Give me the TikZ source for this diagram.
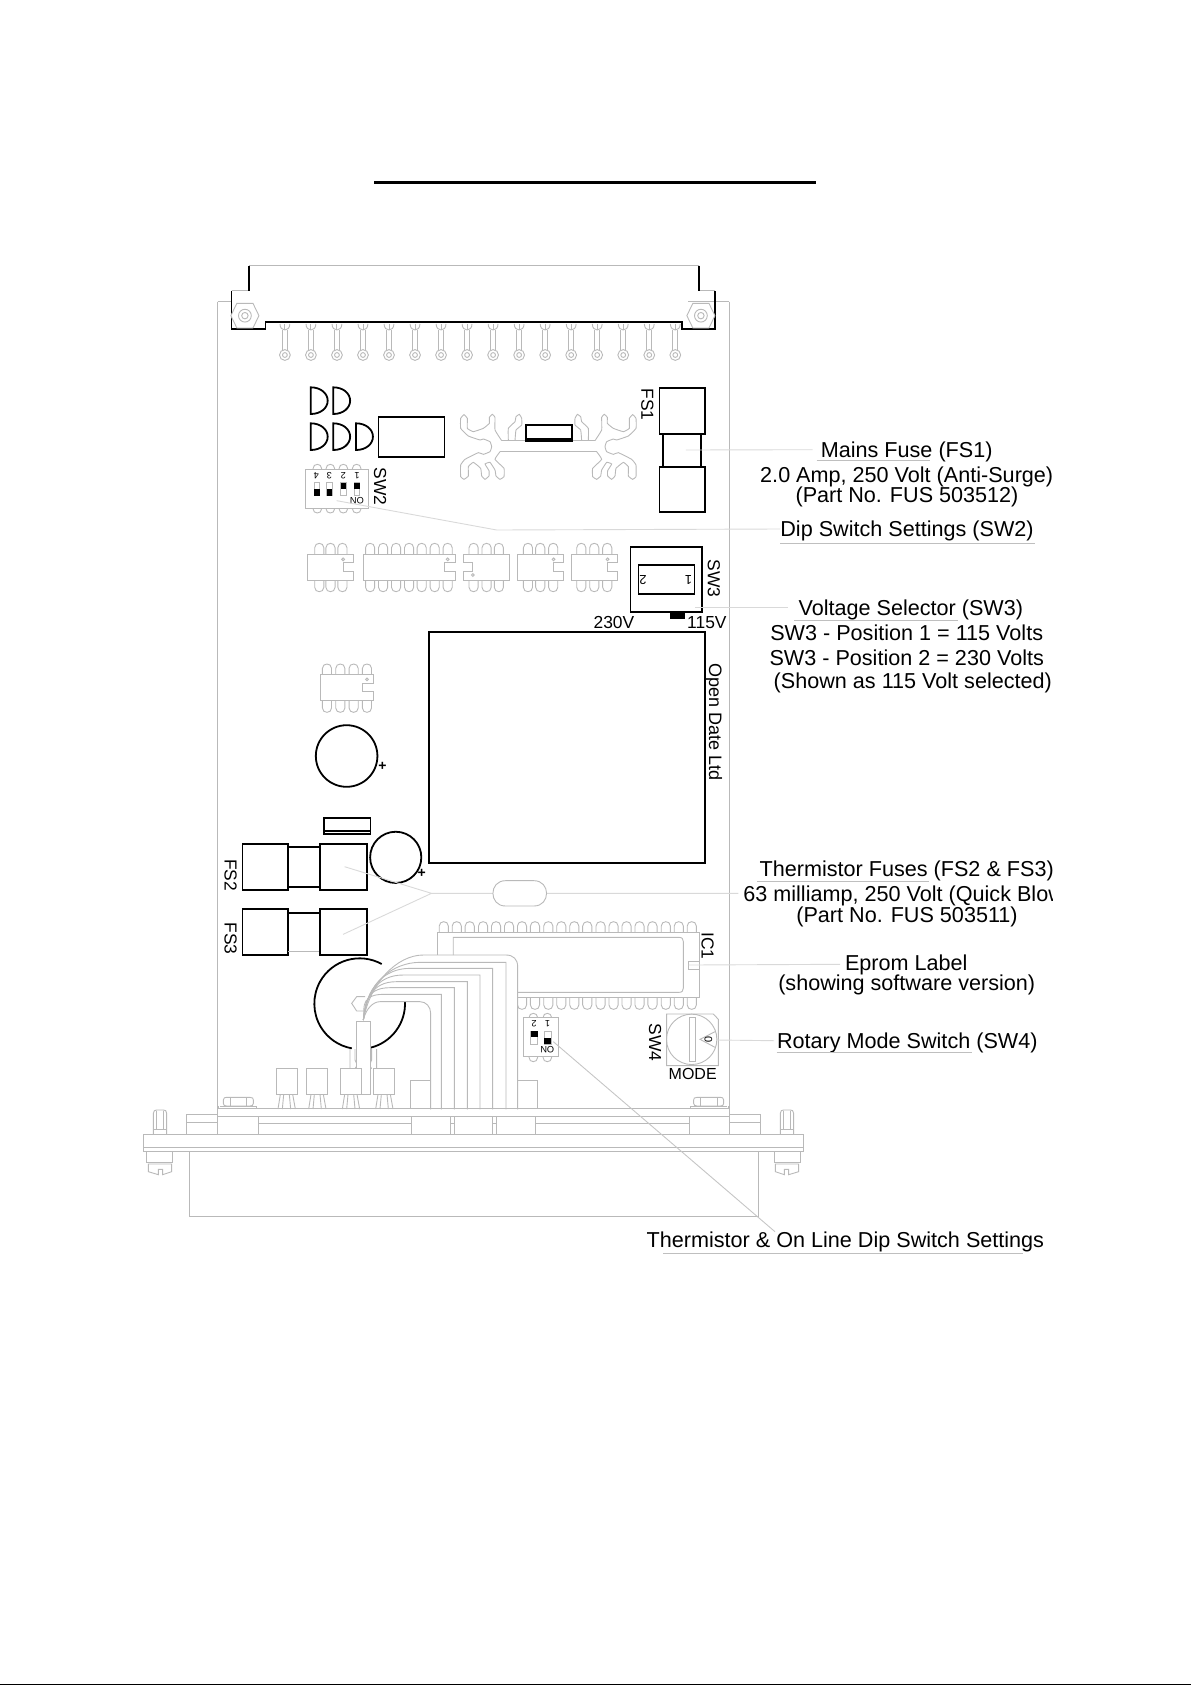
\documentclass[tikz,border=0pt]{standalone}
\usepackage{fontspec}
\setmainfont{Liberation Sans}
\tikzset{
 gl/.style={draw=gray!55,line width=0.45pt},
 bl/.style={draw=black,line width=0.9pt},
 lead/.style={draw=gray!30,line width=0.45pt},
 ul/.style={draw=gray!50,line width=0.5pt},
 lab/.style={font=\fontsize{10.8}{12}\selectfont,anchor=base,inner sep=0pt},
 sm/.style={font=\fontsize{8.7}{9}\selectfont,inner sep=0pt},
 micro/.style={font=\fontsize{4.6}{5}\selectfont,inner sep=0pt,rotate=180},
 zb/.style 2 args={shift={(#1,#2)},x=0.17538pt,y=-0.16667pt},
 zc/.style 2 args={shift={(#1,#2)},x=0.16667pt,y=-0.16667pt},
 zm/.style 2 args={shift={(#1,#2)},x=-0.16667pt,y=-0.16667pt},
}
\newcommand{\domeT}[3]{\foreach \d in {#1}{\draw[gl] (\d-13,#2) -- (\d-13,#2-#3+13) .. controls (\d-13,#2-#3-4.3) and (\d+13,#2-#3-4.3) .. (\d+13,#2-#3+13) -- (\d+13,#2);}}
\newcommand{\domeB}[3]{\foreach \d in {#1}{\draw[gl] (\d-13,#2) -- (\d-13,#2+#3-13) .. controls (\d-13,#2+#3+4.3) and (\d+13,#2+#3+4.3) .. (\d+13,#2+#3-13) -- (\d+13,#2);}}
\newcommand{\chipNotch}[7]{\draw[gl,fill=white] (#1,#4) -- (#2,#4) -- (#2,#5) -- (#3,#5) -- (#3,#6) -- (#2,#6) -- (#2,#7) -- (#1,#7) -- cycle;}
\newcommand{\diode}[2]{\draw[bl] (#1,#2) -- (#1,#2+80) .. controls (#1+28,#2+80) and (#1+48,#2+62) .. (#1+48,#2+40) .. controls (#1+48,#2+18) and (#1+28,#2) .. (#1,#2) -- cycle;}
\newcommand{\hsinkhalf}{
 \draw[gl] (325,155) -- (180,155);
 \draw[gl] (185,122) -- (325,122);
 \draw[gl] plot[smooth,tension=.2] coordinates {(180,155)(165,178)(192,205)(192,230)(180,238)(168,228)(165,210)(150,187)(135,192)(147,212)(147,228)(135,238)(125,228)(122,205)(100,187)(85,200)(85,228)(72,238)(62,230)(62,195)(75,178)(115,158)(130,163)(150,155)(155,140)(150,125)(130,117)(120,120)(85,108)(62,85)(62,55)(72,44)(82,55)(82,85)(100,95)(130,85)(148,70)(148,52)(157,43)(165,52)(165,90)(185,122)};
 \draw[gl] plot[smooth,tension=.2] coordinates {(205,122)(205,85)(225,65)(228,50)(238,43)(245,55)(245,75)(228,90)(225,122)};
}
\newcommand{\panelhalf}{
 \draw[gl] (280,90) .. controls (280,83) and (285,82) .. (290,82) -- (360,82) .. controls (368,82) and (370,85) .. (370,90) -- (370,100) .. controls (370,106) and (366,108) .. (360,108) -- (290,108) .. controls (284,108) and (280,106) .. (280,100) -- cycle;
 \draw[gl] (300,82) -- (300,108) (350,82) -- (350,108) (270,108) -- (380,108) (265,108) -- (265,115) (380,108) -- (380,115);
 \draw[gl] (70,193) -- (70,130) .. controls (70,122) and (75,120) .. (80,120) -- (100,120) .. controls (106,120) and (110,122) .. (110,130) -- (110,193);
 \draw[gl] (80,122) -- (80,178) (100,122) -- (100,178) (70,178) -- (110,178);
 \draw[gl] (50,245) -- (50,278) -- (128,278) -- (128,245);
 \draw[gl] (55,282) -- (125,282) -- (125,305) -- (98,314) -- (98,298) -- (85,298) -- (85,314) -- (55,305) -- cycle;
 \draw[gl] (170,193) -- (170,132) -- (263,132) (170,156) -- (263,156);
}
\begin{document}
\begin{tikzpicture}[x=0.5pt,y=-0.5pt]
\useasboundingbox (0,0) rectangle (1191,1685);
\fill[black] (374,181) rectangle (816,184.3);
\fill[black] (0,1683.5) rectangle (1191,1685);

% board
\draw[gl] (217.7,301.7) -- (217.7,1134.3) (729.3,301.7) -- (729.3,1134.3);
\draw[gl] (217.7,301.7) -- (232,301.7) (688,301.7) -- (729.3,301.7);

\begin{scope}[zb={200}{250}]
 % edge connector
 \draw[gl] (140,47) -- (1423,47) (90,122) -- (140,122) (1423,122) -- (1469,122);
 \draw[bl] (140,47) -- (140,122) (1423,47) -- (1423,122);
 \draw[bl] (90,122) -- (90,238) -- (187,238) -- (187,217) -- (1373,217) -- (1373,238) -- (1469,238) -- (1469,122);
 % pins
 \foreach \p in {242,316.2,390.4,464.6,538.8,613,687.2,761.4,835.6,909.8,984,1058.2,1132.4,1206.6,1280.8,1355}{
  \draw[gl] (\p-7,240) -- (\p-7,305) (\p+7,240) -- (\p+7,305);
  \draw[gl,fill=white] (\p,315) circle [radius=2.7pt];
  \draw[gl] (\p,315) circle [radius=1.2pt];
  \draw[gl] (\p-14,222) .. controls (\p-14,246) and (\p+14,246) .. (\p+14,222);
  \draw[gl] (\p,222) -- (\p,240);
 }
 % mounting nuts
 \foreach \m in {128,1428}{
  \draw[gl,fill=white] (\m-40,197) -- (\m-23,160) -- (\m+23,160) -- (\m+40,197) -- (\m+23,234) -- (\m-23,234) -- cycle;
  \draw[gl] (\m,197) circle [radius=3.2pt];
  \draw[gl] (\m,197) circle [radius=1.6pt];
 }
 % diodes
 \diode{316}{412}\diode{380}{412}
 \diode{316}{520}\diode{380}{520}\diode{445}{520}
 \draw[bl] (509,502) rectangle (697,620);
 % fuse FS1
 \draw[bl] (1310,413) rectangle (1440,552);
 \draw[bl] (1319,552) rectangle (1429,650);
 \draw[bl] (1310,650) rectangle (1440,786);
 \node[sm,rotate=-90] (tFSone) at (1275,463) {FS1};
 % row of chips
 \domeT{340,372,406}{913}{33}\domeB{340,372,406}{991}{34}
 \chipNotch{307}{438}{410}{913}{938}{965}{991}
 \draw[gl] (408,928) circle [radius=0.7pt];
 \domeT{485,522,559,596,632,669,706}{913}{33}\domeB{485,522,559,596,632,669,706}{991}{34}
 \chipNotch{465}{727}{698}{913}{938}{965}{991}
 \draw[gl] (706,928) circle [radius=0.7pt];
 \domeT{780,817,852}{913}{33}\domeB{780,817,852}{991}{34}
 \chipNotch{883}{751}{778}{913}{938}{965}{991}
 \draw[gl] (778,975) circle [radius=0.7pt];
 \domeT{935,970,1007}{913}{33}\domeB{935,970,1007}{991}{34}
 \chipNotch{905}{1036}{1008}{913}{938}{965}{991}
 \draw[gl] (1008,928) circle [radius=0.7pt];
 \domeT{1087,1124,1161}{913}{33}\domeB{1087,1124,1161}{991}{34}
 \chipNotch{1059}{1190}{1162}{913}{938}{965}{991}
 \draw[gl] (1162,928) circle [radius=0.7pt];
 % SW3
 \draw[bl] (1227,891) rectangle (1430,1087);
 \draw[bl] (1250,944) rectangle (1410,1032);
 \node[sm,font=\fontsize{6.5}{7}\selectfont,rotate=180] (tSWa) at (1393,990) {1};
 \node[sm,font=\fontsize{6.5}{7}\selectfont,rotate=180] (tSWb) at (1263,990) {2};
 \fill[black] (1340,1087) rectangle (1382,1107);
 \node[sm,rotate=-90] (tSWthree) at (1465,985) {SW3};
 \node[sm] (tVa) at (1180,1117) {230V};
 \node[sm] (tVb) at (1445,1117) {115V};
 % main IC
 \draw[bl] (652,1147) rectangle (1440,1840);
 \coordinate (cMains) at (1385,600);
\end{scope}

\begin{scope}[zc={440}{400}]
 \hsinkhalf
\end{scope}
\begin{scope}[zm={656.67}{400}]
 \hsinkhalf
\end{scope}
\begin{scope}[zc={440}{400}]
 \draw[bl,fill=white] (257,74) rectangle (395,122);
 \draw[bl] (257,117) -- (395,117);
\end{scope}

\begin{scope}[zc={300}{460}]
 % SW2
 \domeT{52,91,130,170}{27}{14}\domeB{52,91,130,170}{145}{14}
 \draw[gl,fill=white] (17,27) rectangle (205,145);
 \node[micro] (tDa) at (49,47) {4};
 \node[micro] (tDb) at (88,47) {3};
 \node[micro] (tDc) at (130,47) {2};
 \node[micro] (tDd) at (171,47) {1};
 \foreach \s in {42,80}{
  \draw[gl] (\s,68) rectangle (\s+17,107);
  \fill[black] (\s,87) rectangle (\s+17,107);
 }
 \foreach \s in {122,162}{
  \draw[gl] (\s,68) rectangle (\s+17,107);
  \fill[black] (\s,68) rectangle (\s+17,88);
 }
 \node[micro] (tDon) at (171,122) {ON};
 \node[sm,rotate=-90] (tSWtwo) at (240,80) {SW2};
 \coordinate (cDipA) at (110,122);
 \coordinate (cDipB) at (590,210);
\end{scope}

\begin{scope}[zb={200}{650}]
 % 8 pin chip
 \domeT{362,400,438,476}{73}{31}\domeB{362,400,438,476}{152}{35}
 \chipNotch{343}{495}{463}{73}{100}{125}{152}
 \draw[gl] (476,88) circle [radius=0.7pt];
 % capacitors
 \draw[bl] (418,318) circle [radius=15.4pt];
 \node[sm,font=\bfseries\fontsize{7}{7}\selectfont] (tPlusA) at (520,349) {+};
 \draw[bl] (353,504) rectangle (486,552);
 \draw[bl] (353,543) -- (486,543);
 \draw[bl] (558,622) circle [radius=12.8pt];
 \node[sm,font=\bfseries\fontsize{7}{7}\selectfont] (tPlusB) at (632,671) {+};
 % FS2, FS3
 \draw[bl] (121,582) rectangle (251,721);
 \draw[bl] (251,592) rectangle (343,711);
 \draw[bl] (343,582) rectangle (475,721);
 \draw[bl] (121,778) rectangle (251,914);
 \draw[bl] (251,788) -- (343,788);
 \draw[gl] (251,904) -- (343,904);
 \draw[bl] (343,778) rectangle (475,914);
 \node[sm,rotate=-90] (tFStwo) at (87,675) {FS2};
 \node[sm,rotate=-90] (tFSthree) at (87,866) {FS3};
 % leader of thermistor fuses
 \coordinate (cTa) at (412,650);
 \coordinate (cTb) at (408,853);
 \coordinate (cTm) at (660,730);
 \coordinate (cTe) at (1535,730);
 \draw[lead] (cTa) -- (cTm) -- (cTe) (cTb) -- (cTm);
 \draw[gl,fill=white] (871,692) -- (952,692) .. controls (1000,692) and (1000,768) .. (952,768) -- (871,768) .. controls (823,768) and (823,692) .. (871,692) -- cycle;
 % IC1
 \domeT{695,732,769,807,844,881,918,955,993,1030,1067,1104,1142,1179,1216,1253,1290,1328,1365,1402}{848}{33}
 \domeB{918,955,993,1030,1067,1104,1142,1179,1216,1253,1290,1328,1365,1402}{1043}{35}
 \draw[gl] (678,915) -- (678,848) -- (1423,848) -- (1423,1043) -- (905,1043);
 \draw[gl] (722,915) -- (722,862) -- (1365,862) .. controls (1374,862) and (1378,866) .. (1378,875) -- (1378,1014) .. controls (1378,1023) and (1374,1027) .. (1365,1027) -- (905,1027);
 \draw[gl] (1423,933) -- (1393,933) -- (1393,957) -- (1423,957);
 \node[sm,rotate=-90] (tIC) at (1447,888) {IC1};
 \coordinate (cEprom) at (1393,945);
 \node[font=\fontsize{9}{10}\selectfont,inner sep=0pt,rotate=-90] (tOpen) at (1465,215) {Open Date Ltd};
\end{scope}

\begin{scope}[zc={130}{950}]
 % toroid
 \draw[bl] (689,161) ++(-61:136) arc (-61:-260:136);
 \draw[bl] (689,161) ++(76:136) arc (76:-3:136);
 \draw[gl] (705,140) -- (680,140) -- (665,160) -- (680,183) -- (705,183);
 % side clips
 \draw[gl] (660,297) -- (660,356) (675,297) -- (675,330) -- (682,345) -- (675,356);
 \draw[gl] (740,297) -- (740,356) (725,297) -- (725,330) -- (718,345) -- (725,356);
 % plug block
 \draw[gl,fill=white] (679,215) rectangle (722,432);
 % transistors
 \foreach \t in {438,530,631,731}{
  \draw[gl,fill=white] (\t,356) rectangle (\t+63,433);
  \draw[gl] (\t+13,433) -- (\t+6,477) (\t+23,433) -- (\t+19,477) (\t+40,433) -- (\t+44,477) (\t+50,433) -- (\t+58,477);
 }
 % small boxes
 \draw[gl] (841,477) -- (841,392) -- (902,392);
 \draw[gl] (1163,392) -- (1221,392) -- (1221,477);
\end{scope}

\begin{scope}[zc={340}{950}]
 % wire bundle
 \draw[gl] (70,210) .. controls (90,100) and (170,15) .. (250,15) -- (498,15) .. controls (520,15) and (533,28) .. (533,50) -- (533,478);
 \foreach \yh/\xs/\xv in {37/240/498,55/210/458,75/190/420,95/170/382,113/150/343,133/130/304}{
  \draw[gl] (70,210) .. controls (78,\yh+60) and (\xs-80,\yh) .. (\xs,\yh) -- (\xv,\yh) -- (\xv,478);
 }
 \draw[gl] (70,210) .. controls (78,175) and (100,155) .. (120,155) -- (240,155) .. controls (258,155) and (272,170) .. (272,190) -- (272,478);
\end{scope}

\begin{scope}[zc={500}{950}]
 % DIP on line
 \domeT{100,142}{202}{12}\domeB{100,142}{320}{15}
 \draw[gl,fill=white] (69,202) rectangle (176,320);
 \node[micro] (tOa) at (102,222) {2};
 \node[micro] (tOb) at (143,222) {1};
 \draw[gl] (92,243) rectangle (113,282);
 \fill[black] (92,243) rectangle (113,262);
 \draw[gl] (133,243) rectangle (153,282);
 \fill[black] (133,263) rectangle (153,282);
 \node[micro] (tOon) at (142,298) {ON};
 \coordinate (cOnline) at (160,275);
 % rotary
 \draw[gl] (500,192) -- (640,192) -- (655,208) -- (655,347) -- (500,347) -- cycle;
 \draw[gl] (575,268) circle [radius=12.6pt];
 \draw[gl,fill=white] (567,202) rectangle (585,335);
 \draw[gl] (645,245) -- (600,268) -- (645,292);
 \node[font=\fontsize{5.5}{6}\selectfont,inner sep=0pt,rotate=-90] (tZero) at (625,270) {0};
 \node[sm,rotate=-90] (tSWfour) at (465,278) {SW4};
 \node[sm,font=\fontsize{8}{9}\selectfont] (tMode) at (578,372) {MODE};
 \coordinate (cRotary) at (650,270);
\end{scope}

% bottom assembly
\draw[gl] (217.7,1108.3) -- (729.3,1108.3) (217.7,1116.7) -- (729.3,1116.7);
\draw[gl] (258.3,1123) -- (411.7,1123) (535.7,1123) -- (689.3,1123);
\draw[gl] (258.3,1116.7) -- (258.3,1134.3) (411.7,1116.7) -- (411.7,1134.3) (450.3,1116.7) -- (450.3,1134.3) (454.3,1116.7) -- (454.3,1134.3) (492.7,1116.7) -- (492.7,1134.3) (496,1116.7) -- (496,1134.3) (535.7,1116.7) -- (535.7,1134.3) (689.3,1116.7) -- (689.3,1134.3);
\draw[gl] (450.3,1123) -- (454.3,1123) (492.7,1123) -- (496,1123);
\draw[gl] (143.7,1134.3) rectangle (803.3,1151.3);
\draw[gl] (143.7,1147.3) -- (803.3,1147.3);
\draw[gl] (189.3,1151.3) -- (189.3,1216.7) -- (758.7,1216.7) -- (758.7,1151.3);
\begin{scope}[zc={130}{1070}]
 \panelhalf
\end{scope}
\begin{scope}[zm={817}{1070}]
 \panelhalf
\end{scope}

% labels
\node[lab] (lMains) at (906.7,457.3) {Mains Fuse (FS1)};
\node[lab] (lAmp) at (906.7,482) {2.0 Amp, 250 Volt (Anti-Surge)};
\node[lab] (lPartA) at (907,502.7) {(Part No. FUS 503512)};
\node[lab] (lDip) at (907,536.7) {Dip Switch Settings (SW2)};
\node[lab] (lVolt) at (910.8,615) {Voltage Selector (SW3)};
\node[lab] (lPosA) at (906.7,640.7) {SW3 - Position 1 = 115 Volts};
\node[lab] (lPosB) at (906.7,665.7) {SW3 - Position 2 = 230 Volts};
\node[lab] (lShown) at (912.8,688.7) {(Shown as 115 Volt selected)};
\node[lab] (lTherm) at (906.7,876.7) {Thermistor Fuses (FS2 \& FS3)};
\begin{scope}
 \clip (700,880) rectangle (1052.7,912);
 \node[lab,anchor=base west] (lMilli) at (743,901.7) {63 milliamp, 250 Volt (Quick Blow)};
\end{scope}
\node[lab] (lPartB) at (907,922.3) {(Part No. FUS 503511)};
\node[lab] (lEprom) at (906.3,970) {Eprom Label};
\node[lab] (lShow) at (906.7,990) {(showing software version)};
\node[lab] (lRot) at (907.3,1048) {Rotary Mode Switch (SW4)};
\node[lab] (lOn) at (845.4,1247.3) {Thermistor \& On Line Dip Switch Settings};

% underlines
\draw[ul] (816.7,460.7) -- (930,460.7);
\draw[ul] (780,543) -- (1035,543);
\draw[ul] (794.3,620.3) -- (958.3,620.3);
\draw[ul] (757.3,881.3) -- (929.3,881.3);
\draw[ul] (776.7,1052.7) -- (971.7,1052.7);
\draw[ul] (663,1253.3) -- (1023,1253.3);

% leaders
\coordinate (cMainsE) at (812.7,449.7);
\coordinate (cDipE) at (780,529);
\coordinate (cVoltS) at (695,607);
\coordinate (cVoltE) at (787.7,607);
\coordinate (cEpromE) at (840,964.3);
\coordinate (cRotE) at (774,1040.7);
\coordinate (cOnE) at (775,1231.7);
\draw[lead] (cMains) -- (cMainsE);
\draw[lead] (cDipA) -- (cDipB) -- (cDipE);
\draw[lead] (cVoltS) -- (cVoltE);
\draw[lead] (cEprom) -- (cEpromE);
\draw[lead] (cRotary) -- (cRotE);
\draw[lead,draw=gray!45] (cOnline) -- (cOnE);
\end{tikzpicture}
\end{document}
